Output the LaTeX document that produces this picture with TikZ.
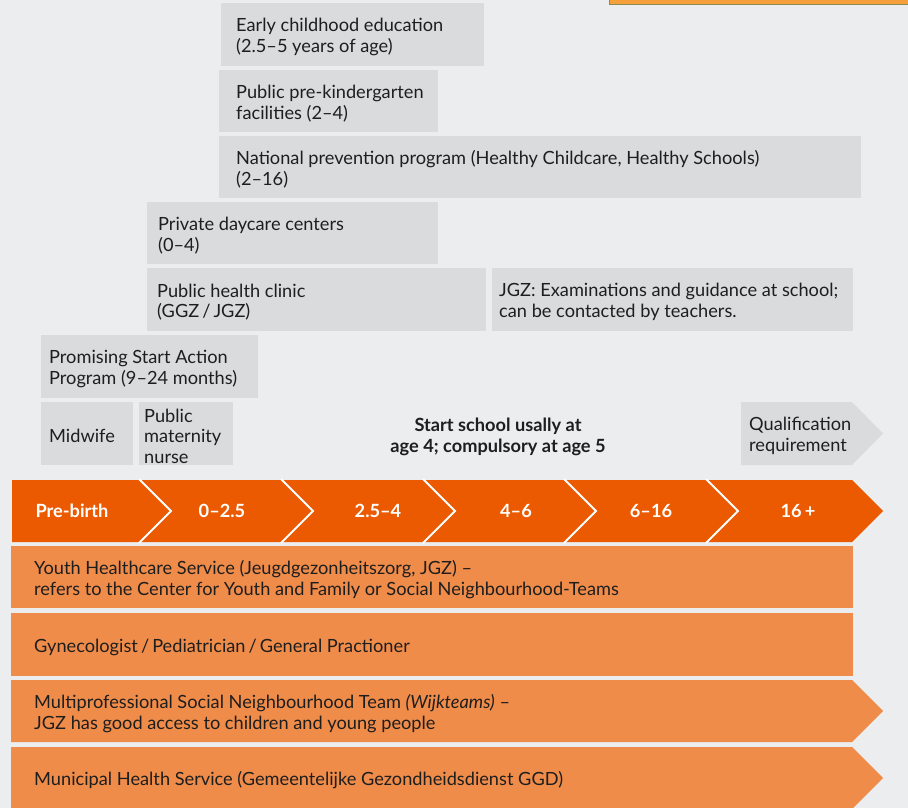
\documentclass[tikz,border=0pt]{standalone}
\usepackage{fontspec}
\setmainfont{Lato}
\definecolor{bgc}{HTML}{ECEDEF}
\definecolor{boxg}{HTML}{D9DBDC}
\definecolor{darkor}{HTML}{EB5A00}
\definecolor{lightor}{HTML}{F08C4A}
\definecolor{txtc}{HTML}{1E1E1E}
\definecolor{barfill}{HTML}{F6A03C}
\definecolor{barline}{HTML}{8C8A4E}
\newcommand{\fs}{\fontsize{18.2}{20.5}\selectfont}
\begin{document}
\begin{tikzpicture}[x=1pt,y=-1pt,
  gbox/.style={fill=boxg, anchor=north west, inner sep=0pt, outer sep=0pt},
  band/.style={fill=lightor, anchor=north west, inner sep=0pt, outer sep=0pt},
  btxt/.style={anchor=west, align=left, text=txtc, font=\fs, inner sep=0pt, yshift=-2.5pt},
  chl/.style={text=white, font=\fs\bfseries, inner sep=0pt},
  sep/.style={draw=white, line width=2pt}
]
\useasboundingbox[fill=bgc] (0,0) rectangle (908,808);
% top bar
\draw[fill=barfill, draw=barline, line width=1.3pt] (609.5,-5) rectangle (912,4.3);
% gray boxes
\node[gbox, minimum width=263pt, minimum height=63pt] (early) at (221,3) {};
\node[btxt] (earlyT) at ([xshift=15pt]early.west) {Early childhood education\\(2.5–5 years of age)};
\node[gbox, minimum width=219pt, minimum height=62pt] (prek) at (219,70) {};
\node[btxt] (prekT) at ([xshift=17pt]prek.west) {Public pre-kindergarten\\facilities (2–4)};
\node[gbox, minimum width=642pt, minimum height=62pt] (natl) at (219,136) {};
\node[btxt] (natlT) at ([xshift=17pt]natl.west) {National prevention program (Healthy Childcare, Healthy Schools)\\(2–16)};
\node[gbox, minimum width=291pt, minimum height=62pt] (priv) at (147,202) {};
\node[btxt] (privT) at ([xshift=11pt]priv.west) {Private daycare centers\\(0–4)};
\node[gbox, minimum width=339pt, minimum height=63pt] (phc) at (147,268) {};
\node[btxt] (phcT) at ([xshift=10pt]phc.west) {Public health clinic\\(GGZ\,/\,JGZ)};
\node[gbox, minimum width=361pt, minimum height=63pt] (jgz) at (492,268) {};
\node[btxt] (jgzT) at ([xshift=7pt]jgz.west) {JGZ: Examinations and guidance at school;\\can be contacted by teachers.};
\node[gbox, minimum width=217pt, minimum height=63pt] (prom) at (41,335) {};
\node[btxt] (promT) at ([xshift=8pt]prom.west) {Promising Start Action\\Program (9–24 months)};
\node[gbox, minimum width=92pt, minimum height=63pt] (mid) at (41,402) {};
\node[btxt] (midT) at ([xshift=8pt]mid.west) {Midwife};
\node[gbox, minimum width=94pt, minimum height=63pt] (mat) at (139,402) {};
\node[btxt] (matT) at ([xshift=5pt]mat.west) {Public\\maternity\\nurse};
% qualification arrow
\fill[boxg] (741,402) -- (852,402) -- (883,433.5) -- (852,465) -- (741,465) -- cycle;
\coordinate (qualW) at (749,433.5);
\node[btxt] (qual) at (qualW) {Qualification\\requirement};
% school text
\node[align=center, text=txtc, font=\fs\bfseries, inner sep=0pt, yshift=-2pt] (school) at (498,435) {Start school usally at\\age 4; compulsory at age 5};
% chevron row
\fill[darkor] (12,480) -- (852,480) -- (883,511) -- (852,542) -- (12,542) -- cycle;
\foreach \b in {139,281,423,564,706}{
  \draw[sep] (\b,479) -- (\b+32,511) -- (\b,543);
}
\node[chl] (c1) at (72,511) {Pre-birth};
\node[chl] (c2) at (222,511) {0–2.5};
\node[chl] (c3) at (378,511) {2.5–4};
\node[chl] (c4) at (516,511) {4–6};
\node[chl] (c5) at (651,511) {6–16};
\node[chl] (c6) at (798,511) {16\,+};
% bands
\node[band, minimum width=842pt, minimum height=62pt] (yhs) at (11,546) {};
\node[btxt] (yhsT) at ([xshift=23pt]yhs.west) {Youth Healthcare Service (Jeugdgezonheitszorg, JGZ) –\\refers to the Center for Youth and Family or Social Neighbourhood-Teams};
\node[band, minimum width=842pt, minimum height=63pt] (gyn) at (11,613) {};
\node[btxt] (gynT) at ([xshift=23pt]gyn.west) {Gynecologist\,/\,Pediatrician\,/\,General Practioner};
\fill[lightor] (11,680) -- (852,680) -- (883,711) -- (852,742) -- (11,742) -- cycle;
\coordinate (multiW) at (34,711);
\node[btxt] (multi) at (multiW) {Multiprofessional Social Neighbourhood Team \textit{(Wijkteams)} –\\JGZ has good access to children and young people};
\fill[lightor] (11,747) -- (852,747) -- (883,778) -- (852,809) -- (11,809) -- cycle;
\coordinate (ggdW) at (34,778);
\node[btxt] (ggd) at (ggdW) {Municipal Health Service (Gemeentelijke Gezondheidsdienst GGD)};
\end{tikzpicture}
\end{document}
